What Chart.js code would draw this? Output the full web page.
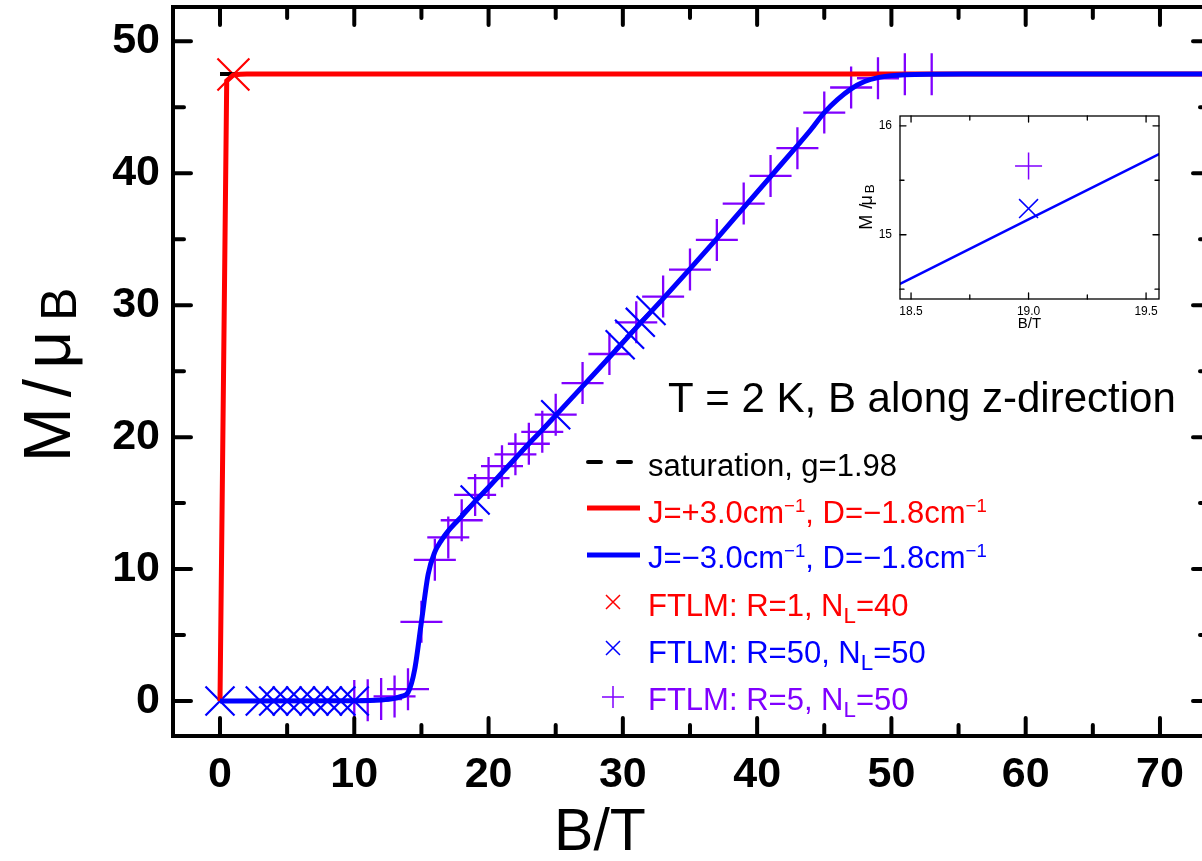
<!DOCTYPE html>
<html lang="en">
<head>
<meta charset="utf-8">
<title>M / muB vs B / T</title>
<script src="https://cdn.jsdelivr.net/npm/chart.js@4.4.1/dist/chart.umd.min.js"></script>
<style>
  html, body { margin: 0; padding: 0; background: #fff; overflow: hidden; }
  #wrap { position: relative; width: 1202px; height: 861px; overflow: hidden; }
  #main { position: absolute; left: 0; top: 0; }
  #inset { position: absolute; left: 840px; top: 100px; }
</style>
</head>
<body>
<div id="wrap">
  <canvas id="main" width="1220" height="861"></canvas>
  <canvas id="inset" width="340" height="240"></canvas>
</div>
<script>
/* 磁化曲線 M(B), T = 2 K */

// ===== データ =====
var satB = [0, 73.8];
var satM = [47.52, 47.52];

var redB = [0, 0.5, 1.0, 1.5, 2, 73.8];
var redM = [0, 47.0, 47.45, 47.51, 47.52, 47.52];

var blueB = [0, 10, 12, 13, 13.5, 14, 14.5, 15, 15.5, 16, 16.5, 17, 18, 19, 20, 21, 22, 23, 24, 25, 26, 27, 29, 31, 33, 35, 37, 39, 41, 43, 44, 45, 46, 47, 48, 49, 50, 51, 53, 56, 73.8];
var blueM = [0, 0.02, 0.08, 0.2, 0.35, 0.65, 2.4, 6.0, 9.6, 11.3, 12.2, 12.9, 14.0, 15.13, 16.2, 17.3, 18.4, 19.5, 20.55, 21.65, 22.75, 23.85, 26.05, 28.3, 30.5, 32.75, 35.05, 37.4, 39.75, 42.1, 43.3, 44.6, 45.6, 46.4, 46.95, 47.25, 47.4, 47.47, 47.51, 47.52, 47.52];

// FTLM R=1, NL=40
var ftlm1B = [1];
var ftlm1M = [47.48];

// FTLM R=50, NL=50
var ftlm50B = [0, 3, 4, 5, 6, 7, 8, 9, 10, 19, 25, 29.8, 30.5, 31.3, 32.1];
var ftlm50M = [0, 0, 0, 0, 0, 0, 0, 0, 0, 15.24, 21.7, 27.0, 27.8, 28.7, 29.6];

// FTLM R=5, NL=50
var ftlm5B = [10, 11, 12, 13, 14, 15, 16, 17, 18, 19, 20, 21, 22, 23, 24, 25, 27, 29, 31, 33, 35, 37, 39, 41, 43, 45, 47, 49, 51, 53];
var ftlm5M = [0.0, 0.05, 0.15, 0.35, 0.9, 6.0, 10.7, 12.4, 13.7, 15.62, 16.9, 17.8, 18.7, 19.5, 20.4, 21.7, 24.1, 26.3, 28.7, 30.65, 32.7, 34.95, 37.7, 39.8, 41.9, 44.6, 46.5, 47.2, 47.5, 47.5];

// 目盛り
var xMajor = [0, 10, 20, 30, 40, 50, 60, 70];
var xMinor = [5, 15, 25, 35, 45, 55, 65];
var yMajor = [0, 10, 20, 30, 40, 50];
var yMinor = [5, 15, 25, 35, 45];

// 拡大図 (inset)
var insetLineB = [18.4, 18.5, 19.0, 19.5, 19.6];
var insetLineM = [14.49, 14.6, 15.14, 15.68, 15.79];
var insetCrossB = [19.0];
var insetCrossM = [15.24];
var insetPlusB = [19.0];
var insetPlusM = [15.63];
var insetXMajor = [18.5, 19.0, 19.5];
var insetXMinor = [18.75, 19.25];
var insetYMajor = [15, 16];
var insetYMinor = [14.5, 15.5];

var RED = "#ff0000", BLUE = "#0000ff", PURPLE = "#8000ff";
var SANS = '"Liberation Sans", Arial, sans-serif';

function pts(xs, ys) {
  return xs.map(function (v, i) { return { x: v, y: ys[i] }; });
}

// 上付き・下付きを含む文字列
function richText(ctx, x, y, parts, size, weight) {
  var cx = x;
  parts.forEach(function (p) {
    var s = p[1] === 1 ? size * 0.6 : p[1] === -1 ? size * 0.72 : size;
    var dy = p[1] === 1 ? -size * 0.36 : p[1] === -1 ? size * 0.22 : 0;
    ctx.font = (weight || "normal") + " " + s + "px " + SANS;
    ctx.fillText(p[0], cx, y + dy);
    cx += ctx.measureText(p[0]).width;
  });
  return cx - x;
}

// 縦書きの M/μB
function yTitle(ctx, cx, cy, size, gap, subDrop) {
  var pieces = [["M", 0], ["/", 0], ["μ", 0], ["B", -1]];
  ctx.save();
  ctx.translate(cx, cy);
  ctx.rotate(-Math.PI / 2);
  var widths = pieces.map(function (p) {
    ctx.font = (p[1] ? size * 0.75 : size) + "px " + SANS;
    return ctx.measureText(p[0]).width;
  });
  var total = widths.reduce(function (a, b) { return a + b; }, 0) + gap * (pieces.length - 1);
  var u = -total / 2;
  var base = size * 0.358;
  ctx.textBaseline = "alphabetic";
  pieces.forEach(function (p, i) {
    ctx.font = (p[1] ? size * 0.75 : size) + "px " + SANS;
    ctx.fillText(p[0], u, base + (p[1] ? size * subDrop : 0));
    u += widths[i] + gap;
  });
  ctx.restore();
}

// 枠・内向き目盛り・目盛りラベル
function framePlugin(o) {
  return {
    id: "frame",
    afterDatasetsDraw: function (chart) {
      var ctx = chart.ctx, a = chart.chartArea, x = chart.scales.x, y = chart.scales.y;
      ctx.save();
      ctx.strokeStyle = "#000";
      ctx.lineWidth = o.lw;
      ctx.lineJoin = "miter";
      ctx.strokeRect(a.left, a.top, a.right - a.left, a.bottom - a.top);
      ctx.lineCap = "round";
      function xt(list, len) {
        list.forEach(function (v) {
          var px = x.getPixelForValue(v);
          ctx.beginPath();
          ctx.moveTo(px, a.bottom); ctx.lineTo(px, a.bottom - len);
          ctx.moveTo(px, a.top); ctx.lineTo(px, a.top + len);
          ctx.stroke();
        });
      }
      function yt(list, len) {
        list.forEach(function (v) {
          var py = y.getPixelForValue(v);
          ctx.beginPath();
          ctx.moveTo(a.left, py); ctx.lineTo(a.left + len, py);
          ctx.moveTo(a.right, py); ctx.lineTo(a.right - len, py);
          ctx.stroke();
        });
      }
      xt(o.xMajor, o.major); xt(o.xMinor, o.minor);
      yt(o.yMajor, o.major); yt(o.yMinor, o.minor);

      // ラベルはスケールが作った目盛りから
      ctx.fillStyle = "#000";
      ctx.font = o.font;
      ctx.textBaseline = "middle";
      ctx.textAlign = "center";
      x.ticks.forEach(function (t) {
        ctx.fillText(o.fmtX(t.value), x.getPixelForValue(t.value), a.bottom + o.xGap);
      });
      ctx.textAlign = "right";
      y.ticks.forEach(function (t) {
        ctx.fillText(o.fmtY(t.value), a.left - o.yGap, y.getPixelForValue(t.value));
      });
      ctx.restore();
    }
  };
}

function fmtInt(v) { return String(Math.round(v)); }
function fmt1(v) { return v.toFixed(1); }

// ===== 凡例・注記・軸タイトル =====
var legendRows = [
  { kind: "dash",  color: "#000", y: 462, base: 476, parts: [["saturation, g=1.98", 0]] },
  { kind: "line",  color: RED,    y: 508, base: 523, parts: [["J=+3.0cm", 0], ["−1", 1], [", D=−1.8cm", 0], ["−1", 1]] },
  { kind: "line",  color: BLUE,   y: 555, base: 568, parts: [["J=−3.0cm", 0], ["−1", 1], [", D=−1.8cm", 0], ["−1", 1]] },
  { kind: "x",     color: RED,    y: 602, base: 616, parts: [["FTLM: R=1, N", 0], ["L", -1], ["=40", 0]] },
  { kind: "x",     color: BLUE,   y: 648, base: 663, parts: [["FTLM: R=50, N", 0], ["L", -1], ["=50", 0]] },
  { kind: "plus",  color: PURPLE, y: 697, base: 710, parts: [["FTLM: R=5, N", 0], ["L", -1], ["=50", 0]] }
];

var mainDecor = {
  id: "mainDecor",
  afterDraw: function (chart) {
    var ctx = chart.ctx;
    ctx.save();
    ctx.textAlign = "left";
    ctx.textBaseline = "alphabetic";

    legendRows.forEach(function (r) {
      ctx.strokeStyle = r.color;
      ctx.fillStyle = r.color;
      ctx.beginPath();
      if (r.kind === "dash") {
        ctx.lineWidth = 4; ctx.lineCap = "round";
        ctx.moveTo(588, r.y); ctx.lineTo(601, r.y);
        ctx.moveTo(618, r.y); ctx.lineTo(631, r.y);
      } else if (r.kind === "line") {
        ctx.lineWidth = 5; ctx.lineCap = "butt";
        ctx.moveTo(587, r.y); ctx.lineTo(640, r.y);
      } else if (r.kind === "x") {
        ctx.lineWidth = 1.5; ctx.lineCap = "butt";
        ctx.moveTo(606, r.y - 7); ctx.lineTo(620, r.y + 7);
        ctx.moveTo(620, r.y - 7); ctx.lineTo(606, r.y + 7);
      } else {
        ctx.lineWidth = 1.5; ctx.lineCap = "butt";
        ctx.moveTo(602, r.y); ctx.lineTo(624, r.y);
        ctx.moveTo(613, r.y - 11); ctx.lineTo(613, r.y + 11);
      }
      ctx.stroke();
      richText(ctx, 648, r.base, r.parts, 31);
    });

    ctx.fillStyle = "#000";
    ctx.font = "42px " + SANS;
    ctx.fillText("T = 2 K, B along z-direction", 668, 412);

    ctx.textAlign = "center";
    ctx.font = "59px " + SANS;
    ctx.fillText("B/T", 600, 850);
    ctx.textAlign = "left";
    yTitle(ctx, 46, 375, 66, 10, 0.1);
    ctx.restore();
  }
};

// ===== 主グラフ =====
new Chart(document.getElementById("main"), {
  type: "scatter",
  data: {
    datasets: [
      { label: "saturation, g=1.98", data: pts(satB, satM), showLine: true, borderColor: "#000", borderWidth: 4, borderDash: [15, 15], pointRadius: 0, order: 5 },
      { label: "J=+3.0, D=-1.8", data: pts(redB, redM), showLine: true, borderColor: RED, borderWidth: 5, pointRadius: 0, order: 4 },
      { label: "J=-3.0, D=-1.8", data: pts(blueB, blueM), showLine: true, borderColor: BLUE, borderWidth: 5, pointRadius: 0, cubicInterpolationMode: "monotone", order: 1 },
      { label: "FTLM R=1", data: pts(ftlm1B, ftlm1M), pointStyle: "crossRot", pointRadius: 22.6, pointBorderWidth: 2.2, pointBorderColor: RED, order: 6 },
      { label: "FTLM R=50", data: pts(ftlm50B, ftlm50M), pointStyle: "crossRot", pointRadius: 20.5, pointBorderWidth: 2.2, pointBorderColor: BLUE, order: 7 },
      { label: "FTLM R=5", data: pts(ftlm5B, ftlm5M), pointStyle: "cross", pointRadius: 21, pointBorderWidth: 2.3, pointBorderColor: PURPLE, order: 8 }
    ]
  },
  options: {
    responsive: false, animation: false, events: [],
    layout: { autoPadding: false, padding: { top: 7, right: 9, left: 0, bottom: 0 } },
    plugins: { legend: { display: false }, tooltip: { enabled: false } },
    scales: {
      x: {
        type: "linear", min: -3.5, max: 73.8,
        afterFit: function (s) { s.height = 125; },
        grid: { display: false, drawTicks: false }, border: { display: false },
        ticks: { stepSize: 10, includeBounds: false, display: false }
      },
      y: {
        type: "linear", min: -2.65, max: 52.6,
        afterFit: function (s) { s.width = 173; },
        grid: { display: false, drawTicks: false }, border: { display: false },
        ticks: { stepSize: 10, includeBounds: false, display: false }
      }
    }
  },
  plugins: [framePlugin({ lw: 4, major: 18, minor: 11, xMajor: xMajor, xMinor: xMinor, yMajor: yMajor, yMinor: yMinor,
                          font: "bold 43px " + SANS, xGap: 39, yGap: 13, fmtX: fmtInt, fmtY: fmtInt }), mainDecor]
});

// ===== 拡大図 =====
var insetDecor = {
  id: "insetDecor",
  afterDraw: function (chart) {
    var ctx = chart.ctx;
    ctx.save();
    ctx.fillStyle = "#000";
    ctx.textAlign = "center";
    ctx.font = "15px " + SANS;
    ctx.fillText("B/T", 189.5, 228);
    yTitle(ctx, 26, 101, 18, 1, 0.1);
    ctx.restore();
  }
};

new Chart(document.getElementById("inset"), {
  type: "scatter",
  data: {
    datasets: [
      { data: pts(insetLineB, insetLineM), showLine: true, borderColor: BLUE, borderWidth: 2.5, pointRadius: 0, clip: 0, order: 1 },
      { data: pts(insetCrossB, insetCrossM), pointStyle: "crossRot", pointRadius: 13.4, pointBorderWidth: 1.5, pointBorderColor: BLUE, order: 2 },
      { data: pts(insetPlusB, insetPlusM), pointStyle: "cross", pointRadius: 13.5, pointBorderWidth: 1.5, pointBorderColor: PURPLE, order: 3 }
    ]
  },
  options: {
    responsive: false, animation: false, events: [],
    layout: { autoPadding: false, padding: { top: 16, right: 21, left: 0, bottom: 0 } },
    plugins: { legend: { display: false }, tooltip: { enabled: false } },
    scales: {
      x: {
        type: "linear", min: 18.453, max: 19.555,
        afterFit: function (s) { s.height = 41; },
        grid: { display: false, drawTicks: false }, border: { display: false },
        ticks: { stepSize: 0.5, includeBounds: false, display: false }
      },
      y: {
        type: "linear", min: 14.41, max: 16.09,
        afterFit: function (s) { s.width = 60; },
        grid: { display: false, drawTicks: false }, border: { display: false },
        ticks: { stepSize: 1, includeBounds: false, display: false }
      }
    }
  },
  plugins: [framePlugin({ lw: 1.3, major: 6, minor: 4, xMajor: insetXMajor, xMinor: insetXMinor, yMajor: insetYMajor, yMinor: insetYMinor,
                          font: "12px " + SANS, xGap: 13, yGap: 8, fmtX: fmt1, fmtY: fmtInt }), insetDecor]
});
</script>
</body>
</html>
